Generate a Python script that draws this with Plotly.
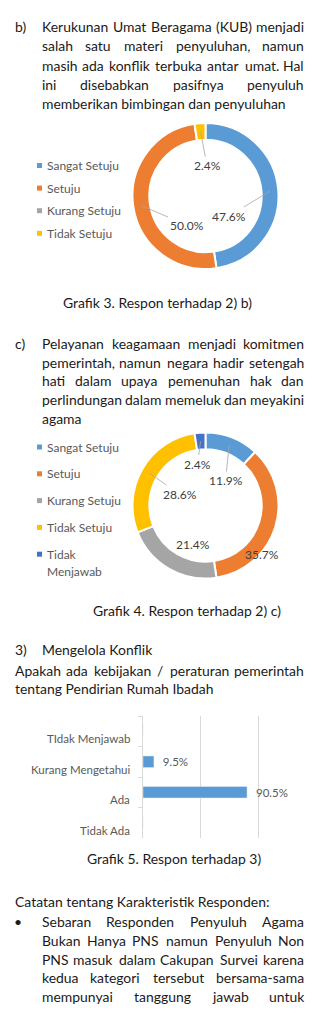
import math
import os
import struct
import plotly.graph_objects as go

W, H = 313, 1013

# ---------------- data ----------------
donut1_labels = ["Sangat Setuju", "Setuju", "Kurang Setuju", "Tidak Setuju"]
donut1_values = [47.6, 50.0, 0.0, 2.4]
donut1_colors = ["#5B9BD5", "#ED7D31", "#A5A5A5", "#FFC000"]

donut2_labels = ["Sangat Setuju", "Setuju", "Kurang Setuju", "Tidak Setuju", "Tidak Menjawab"]
donut2_values = [11.9, 35.7, 21.4, 28.6, 2.4]
donut2_colors = ["#5B9BD5", "#ED7D31", "#A5A5A5", "#FFC000", "#4472C4"]

bar_categories = ["Tidak Ada", "Ada", "Kurang Mengetahui", "TIdak Menjawab"]
bar_values = [0.0, 90.5, 9.5, 0.0]

para_b = ["Kerukunan Umat Beragama (KUB) menjadi",
          "salah satu materi penyuluhan, namun",
          "masih ada konflik terbuka antar umat. Hal",
          "ini disebabkan pasifnya penyuluh",
          "memberikan bimbingan dan penyuluhan"]
para_c = ["Pelayanan keagamaan menjadi komitmen",
          "pemerintah, namun negara hadir setengah",
          "hati dalam upaya pemenuhan hak dan",
          "perlindungan dalam memeluk dan meyakini",
          "agama"]
para_note = ["Sebaran Responden Penyuluh Agama",
             "Bukan Hanya PNS namun Penyuluh Non",
             "PNS masuk dalam Cakupan Survei karena",
             "kedua kategori tersebut bersama-sama",
             "mempunyai tanggung jawab untuk"]

# ---------------- style ----------------
FONT = "Lato"
TEXT = "#1a1a1a"
LABEL = "#404040"
LEG = "#595959"

# ---- character advance widths (em) of the body font, read from the font file if found ----
CW = {' ': 0.193, 'a': 0.49, 'b': 0.56, 'c': 0.46, 'd': 0.56, 'e': 0.52, 'f': 0.32, 'g': 0.50,
      'h': 0.56, 'i': 0.24, 'j': 0.24, 'k': 0.50, 'l': 0.24, 'm': 0.84, 'n': 0.56, 'o': 0.56,
      'p': 0.56, 'q': 0.56, 'r': 0.37, 's': 0.42, 't': 0.36, 'u': 0.56, 'v': 0.51, 'w': 0.77,
      'x': 0.49, 'y': 0.51, 'z': 0.45, 'A': 0.67, 'B': 0.63, 'C': 0.66, 'D': 0.73, 'E': 0.55,
      'F': 0.53, 'G': 0.71, 'H': 0.75, 'I': 0.28, 'J': 0.39, 'K': 0.65, 'L': 0.48, 'M': 0.91,
      'N': 0.75, 'O': 0.78, 'P': 0.60, 'Q': 0.78, 'R': 0.62, 'S': 0.52, 'T': 0.58, 'U': 0.72,
      'V': 0.67, 'W': 1.0, 'X': 0.65, 'Y': 0.63, 'Z': 0.6, ',': 0.22, '.': 0.22, '(': 0.3,
      ')': 0.3, '/': 0.38, '-': 0.33, ':': 0.22}


def find_font():
    roots = ["/usr/share/fonts", "/usr/local/share/fonts",
             os.path.expanduser("~/.fonts"), os.path.expanduser("~/.local/share/fonts")]
    for root in roots:
        if not os.path.isdir(root):
            continue
        for dp, dn, fn in os.walk(root):
            for f in fn:
                lf = f.lower()
                if lf in ("lato-regular.ttf", "lato-reg.ttf", "lato-regular.otf"):
                    return os.path.join(dp, f)
    return None


def load_widths(path):
    data = open(path, "rb").read()
    num = struct.unpack(">H", data[4:6])[0]
    tables = {}
    for i in range(num):
        tag, cs, off, ln = struct.unpack(">4sIII", data[12 + 16 * i:28 + 16 * i])
        tables[tag.decode("latin1")] = off
    upem = struct.unpack(">H", data[tables["head"] + 18:tables["head"] + 20])[0]
    nhm = struct.unpack(">H", data[tables["hhea"] + 34:tables["hhea"] + 36])[0]
    hm = tables["hmtx"]
    adv = [struct.unpack(">H", data[hm + 4 * i:hm + 4 * i + 2])[0] for i in range(nhm)]
    cm = tables["cmap"]
    n = struct.unpack(">H", data[cm + 2:cm + 4])[0]
    sub = None
    for i in range(n):
        pid, eid, off = struct.unpack(">HHI", data[cm + 4 + 8 * i:cm + 12 + 8 * i])
        fmt = struct.unpack(">H", data[cm + off:cm + off + 2])[0]
        if fmt == 4 and ((pid == 3 and eid == 1) or pid == 0):
            sub = cm + off
            break
    seg2 = struct.unpack(">H", data[sub + 6:sub + 8])[0]
    seg = seg2 // 2
    ends = struct.unpack(">%dH" % seg, data[sub + 14:sub + 14 + seg2])
    starts = struct.unpack(">%dH" % seg, data[sub + 16 + seg2:sub + 16 + 2 * seg2])
    deltas = struct.unpack(">%dh" % seg, data[sub + 16 + 2 * seg2:sub + 16 + 3 * seg2])
    rpos = sub + 16 + 3 * seg2
    roffs = struct.unpack(">%dH" % seg, data[rpos:rpos + seg2])

    def gid(c):
        for i in range(seg):
            if starts[i] <= c <= ends[i]:
                if roffs[i] == 0:
                    return (c + deltas[i]) & 0xFFFF
                p = rpos + 2 * i + roffs[i] + 2 * (c - starts[i])
                g = struct.unpack(">H", data[p:p + 2])[0]
                return (g + deltas[i]) & 0xFFFF if g else 0
        return 0

    out = {}
    for c in range(32, 127):
        g = gid(c)
        out[chr(c)] = adv[min(g, nhm - 1)] / upem
    return out


try:
    _p = find_font()
    if _p:
        CW = load_widths(_p)
except Exception:
    pass


def em(s):
    return sum(CW.get(c, 0.55) for c in s)


# body size calibrated so unjustified lines have the reference's widths
_cal = [("memberikan bimbingan dan penyuluhan", 246.0),
        ("tentang Pendirian Rumah Ibadah", 200.0),
        ("Catatan tentang Karakteristik Responden:", 253.0)]
BODY = sum(w / em(s) for s, w in _cal) / len(_cal)
BODY = max(12.5, min(BODY, 15.5))


def px(x):
    return x / W


def py(y):
    return 1 - y / H


annotations = []
shapes = []


def txt(s, x, y, size=None, color=TEXT, anchor="left"):
    size = size or BODY
    annotations.append(dict(text=s, x=px(x), y=py(y), xref="paper", yref="paper",
                            xanchor=anchor, yanchor="middle", showarrow=False, borderpad=0,
                            font=dict(family=FONT, size=size, color=color)))


def justify(line, x0, x1, y, size=None):
    size = size or BODY
    words = line.split()
    ws = [em(w) * size for w in words]
    gap = (x1 - x0 - sum(ws)) / (len(words) - 1)
    x = x0
    for i, (w, wd) in enumerate(zip(words, ws)):
        if i == 0:
            txt(w, x0, y, size, anchor="left")
        elif i == len(words) - 1:
            txt(w, x1, y, size, anchor="right")
        else:
            txt(w, x + wd / 2, y, size, anchor="center")
        x += wd + gap


def paragraph(lines, x0, x1, y0, step, last_justified=False):
    for i, line in enumerate(lines):
        y = y0 + i * step
        if i == len(lines) - 1 and not last_justified:
            txt(line, x0, y)
        else:
            justify(line, x0, x1, y)


# ---------------- text blocks ----------------
txt("b)", 14, 26.7)
paragraph(para_b, 41, 305, 26.7, 19.15)
txt("Grafik 3. Respon terhadap 2) b)", 157.5, 302.7, anchor="center")
txt("c)", 14, 343.3)
paragraph(para_c, 41, 305, 343.3, 18.8)
txt("Grafik 4. Respon terhadap 2) c)", 186.7, 610, anchor="center")
txt("3)", 14, 649.3)
txt("Mengelola Konflik", 41, 649.3)
justify("Apakah ada kebijakan / peraturan pemerintah", 14, 305, 670)
txt("tentang Pendirian Rumah Ibadah", 14, 688.3)
txt("Grafik 5. Respon terhadap 3)", 173.5, 858.3, anchor="center")
txt("Catatan tentang Karakteristik Responden:", 14, 901.7)
txt("•", 18, 921.7, anchor="center")
paragraph(para_note, 41, 305, 921.7, 18.75, last_justified=True)

# ---------------- donuts ----------------
R_OUT = 73
HOLE = 0.77
R_MID = R_OUT * (1 + HOLE) / 2


def donut_domain(cx, cy, r):
    return dict(x=[px(cx - r), px(cx + r)], y=[py(cy + r), py(cy - r)])


def mid_angles(values):
    tot = sum(values)
    acc = 0
    out = []
    for v in values:
        out.append((acc + v / 2) / tot * 2 * math.pi)
        acc += v
    return out


fig = go.Figure()

donuts = [
    (donut1_labels, donut1_values, donut1_colors, 205.5, 196.0,
     {0: (23.5, 20, True), 1: (-19, 29, True), 3: (1.5, -30.3, True)}),
    (donut2_labels, donut2_values, donut2_colors, 205.5, 505.5,
     {0: (20, -25, True), 1: (56.5, 48.5, False), 2: (-13, 38.5, False),
      3: (-26, -11.5, True), 4: (-8, -41.5, True)}),
]

for labels, values, colors, cx, cy, lab in donuts:
    fig.add_trace(go.Pie(labels=labels, values=values, hole=HOLE, sort=False,
                         direction="clockwise", rotation=0,
                         marker=dict(colors=colors, line=dict(color="white", width=2)),
                         textinfo="none", hoverinfo="label+percent", showlegend=False,
                         domain=donut_domain(cx, cy, R_OUT)))
    angs = mid_angles(values)
    for i, (dx, dy, arrow) in lab.items():
        s = f"{values[i]:.1f}%"
        tx, ty = cx + dx, cy + dy
        if arrow:
            tipx = cx + R_MID * math.sin(angs[i])
            tipy = cy - R_MID * math.cos(angs[i])
            annotations.append(dict(text=s, x=px(tipx), y=py(tipy), xref="paper", yref="paper",
                                    showarrow=True, arrowhead=0, arrowwidth=0.8,
                                    arrowcolor="#A6A6A6", standoff=0, borderpad=1,
                                    ax=tx - tipx, ay=ty - tipy,
                                    font=dict(family=FONT, size=12, color=LABEL)))
        else:
            txt(s, tx, ty, size=12, color=LABEL, anchor="center")


# ---------------- manual legends ----------------
def legend(labels, colors, x, y0, step):
    for i, (l, c) in enumerate(zip(labels, colors)):
        y = y0 + i * step
        shapes.append(dict(type="rect", xref="paper", yref="paper",
                           x0=px(x - 2.5), x1=px(x + 2.5), y0=py(y + 2.5), y1=py(y - 2.5),
                           fillcolor=c, line=dict(width=0)))
        if em(l) * 12 > 78:
            first, rest = l.split(" ", 1)
            txt(first, x + 6.5, y, size=12, color=LEG)
            txt(rest, x + 6.5, y + 17, size=12, color=LEG)
        else:
            txt(l, x + 6.5, y, size=12, color=LEG)


legend(donut1_labels, donut1_colors, 39.5, 165.5, 22.6)
legend(donut2_labels, donut2_colors, 39.5, 447, 26.8)

# ---------------- bar chart ----------------
fig.add_trace(go.Bar(orientation="h", y=bar_categories, x=bar_values,
                     marker=dict(color="#5B9BD5"), width=0.38,
                     text=[f"\u00a0\u00a0{v:.1f}%" if v > 0 else "" for v in bar_values],
                     textposition="outside", constraintext="none", cliponaxis=False,
                     textfont=dict(family=FONT, size=11.5, color=LEG),
                     hoverinfo="x+y", showlegend=False, xaxis="x", yaxis="y"))

for c in bar_categories:
    annotations.append(dict(text=c, x=px(131), y=c, xref="paper", yref="y",
                            xanchor="right", yanchor="middle", yshift=-7.5, showarrow=False,
                            borderpad=0, font=dict(family=FONT, size=11.5, color=LEG)))

X_MAX = 101.0
X0_PX, X100_PX = 143.0, 258.0
fig.update_layout(
    width=W, height=H, autosize=False,
    margin=dict(l=0, r=0, t=0, b=0, pad=0),
    paper_bgcolor="white", plot_bgcolor="white",
    showlegend=False,
    font=dict(family=FONT, color=TEXT),
    xaxis=dict(domain=[px(X0_PX), px(X0_PX + (X100_PX - X0_PX) * X_MAX / 100)],
               range=[0, X_MAX], dtick=50, tick0=0,
               showticklabels=False, showgrid=True, gridcolor="#D9D9D9", gridwidth=1,
               zeroline=False, showline=False, fixedrange=True),
    yaxis=dict(domain=[py(838), py(716)], type="category", categoryorder="array",
               categoryarray=bar_categories, range=[-0.5, 3.5], showline=True,
               linecolor="#D9D9D9", linewidth=1, ticks="outside", ticklen=4,
               tickcolor="#D9D9D9", tickson="boundaries", showticklabels=False,
               showgrid=False, zeroline=False, fixedrange=True),
    annotations=annotations,
    shapes=shapes,
)

fig.write_html("out.html")
